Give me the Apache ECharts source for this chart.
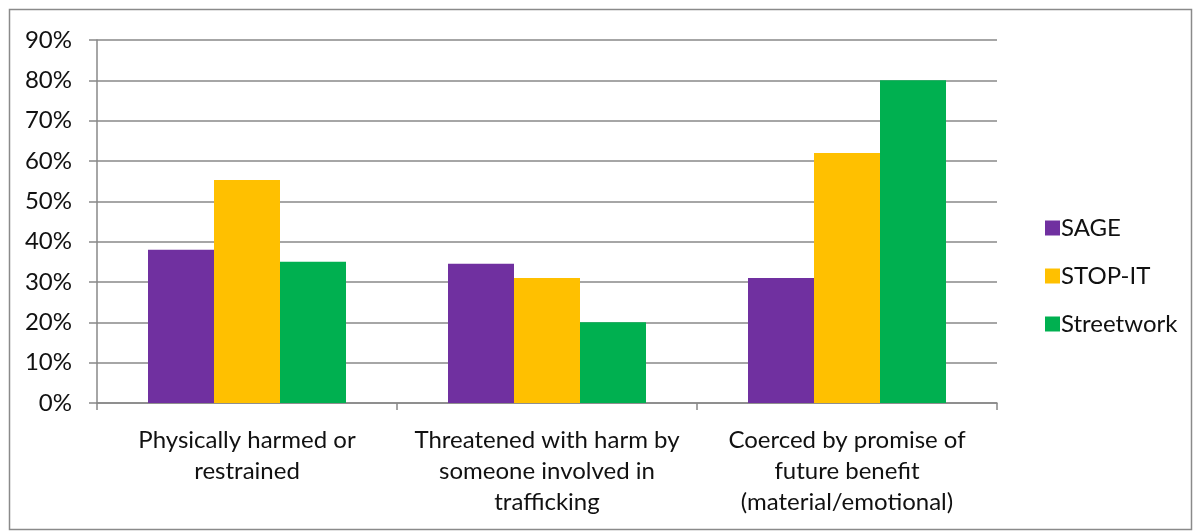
<!DOCTYPE html>
<html>
<head>
<meta charset="utf-8">
<script src="https://cdn.jsdelivr.net/npm/echarts@6/dist/echarts.min.js"></script>
<style>
  html, body { margin: 0; padding: 0; background: #fff; }
  #chart { width: 1194px; height: 531px; }
</style>
</head>
<body>
<div id="chart"></div>
<script>
// categories (wrapped as in the original)
var categories = [
    'Physically harmed or\nrestrained',
    'Threatened with harm by\nsomeone involved in\ntrafficking',
    'Coerced by promise of\nfuture benefit\n(material/emotional)'
];
// values in percent
var sage = [38, 34.5, 31];
var stopIt = [55.3, 31, 62];
var streetwork = [35, 20, 80];
var yTicks = [0, 10, 20, 30, 40, 50, 60, 70, 80, 90];

var font = 'Lato, "Open Sans", sans-serif';
var gridColor = '#888';

var chart = echarts.init(document.getElementById('chart'));

var option = {
    animation: false,
    color: ['#7030a0', '#ffc000', '#00b050'],
    textStyle: { fontFamily: font, color: '#111' },
    graphic: [
        {
            type: 'rect',
            shape: { x: 9.5, y: 9.5, width: 1182, height: 520 },
            style: { fill: 'none', stroke: '#8a8a8a', lineWidth: 1.5 },
            silent: true
        }
    ],
    legend: {
        orient: 'vertical',
        left: 1040,
        top: 211,
        itemWidth: 15,
        itemHeight: 15,
        itemGap: 24,
        icon: 'rect',
        textStyle: { fontFamily: font, fontSize: 24, lineHeight: 24, color: '#111', padding: [0, 0, 0, -4] },
        data: ['SAGE', 'STOP-IT', 'Streetwork']
    },
    grid: {
        left: 97,
        right: 197,
        top: 40,
        bottom: 128,
        containLabel: false
    },
    xAxis: {
        type: 'category',
        data: categories,
        boundaryGap: true,
        axisLine: { show: true, lineStyle: { color: gridColor, width: 1.5 } },
        axisTick: { show: true, length: 7, alignWithLabel: false, lineStyle: { color: gridColor, width: 1.5 } },
        axisLabel: {
            interval: 0,
            margin: 22,
            fontSize: 24,
            lineHeight: 31,
            color: '#111',
            fontFamily: font,
            align: 'center'
        }
    },
    yAxis: {
        type: 'value',
        min: yTicks[0],
        max: yTicks[yTicks.length - 1],
        interval: 10,
        axisLine: { show: true, lineStyle: { color: gridColor, width: 1.5 } },
        axisTick: { show: true, length: 8, lineStyle: { color: gridColor, width: 1.5 } },
        splitLine: { show: true, lineStyle: { color: gridColor, width: 1.5 } },
        axisLabel: {
            formatter: '{value}%',
            fontSize: 24,
            margin: 25,
            color: '#111',
            fontFamily: font
        }
    },
    series: [
        {
            name: 'SAGE',
            type: 'bar',
            data: sage,
            barGap: '0%',
            barCategoryGap: '34%'
        },
        {
            name: 'STOP-IT',
            type: 'bar',
            data: stopIt,
            barGap: '0%',
            barCategoryGap: '34%'
        },
        {
            name: 'Streetwork',
            type: 'bar',
            data: streetwork,
            barGap: '0%',
            barCategoryGap: '34%'
        }
    ]
};

chart.setOption(option);
</script>
</body>
</html>
